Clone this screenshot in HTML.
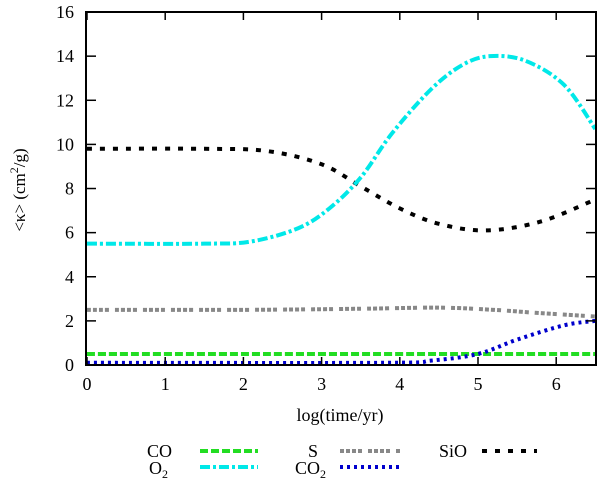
<!DOCTYPE html>
<html><head><meta charset="utf-8"><style>
body{margin:0;background:#fff;}
svg{display:block;font-family:"Liberation Serif",serif;}
</style></head><body>
<svg id="s" width="600" height="480" viewBox="0 0 600 480" xmlns="http://www.w3.org/2000/svg">
<g id="curves"></g>
<rect x="86" y="12" width="510" height="353" fill="none" stroke="#000" stroke-width="2"/>
<g id="ticks" stroke="#000" stroke-width="1.5"></g>
<g font-size="18" fill="#000" id="labels"></g>
<text x="340" y="421" font-size="18" text-anchor="middle">log(time/yr)</text>
<text transform="translate(25,190) rotate(-90)" font-size="17" text-anchor="middle">&lt;κ&gt; (cm<tspan dy="-7" font-size="12">2</tspan><tspan dy="7">/g)</tspan></text>
<g font-size="18" text-anchor="end">
<text x="172" y="457">CO</text>
<text x="318" y="457">S</text>
<text x="467" y="457">SiO</text>
<text x="168" y="474">O<tspan font-size="12" dy="4">2</tspan></text>
<text x="326" y="474">CO<tspan font-size="12" dy="4">2</tspan></text>
</g>
<g stroke-width="4" fill="none">
<line x1="200" y1="451" x2="258" y2="451" stroke="#22dd22" stroke-dasharray="8,3"/>
<line x1="340" y1="451" x2="400" y2="451" stroke="#888" stroke-dasharray="4,2,4,2,4,2,4,6"/>
<line x1="482" y1="451" x2="537" y2="451" stroke="#000" stroke-dasharray="5,8"/>
<line x1="200" y1="467" x2="258" y2="467" stroke="#00e8e8" stroke-dasharray="10,3,3,3"/>
<line x1="340" y1="467" x2="400" y2="467" stroke="#0000cc" stroke-dasharray="3,4"/>
</g>
</svg>
<script>
var X0=87,SX=78.2,Y0=365,SY=22.06;
function px(x){return X0+x*SX} function py(y){return Y0-y*SY}
var ns="http://www.w3.org/2000/svg";
function path(pts,col,dash){
 var p=pts.map(function(a){return [px(a[0]),py(a[1])]});
 var d="M"+p[0][0]+","+p[0][1];
 for(var i=0;i<p.length-1;i++){
  var p0=p[i-1]||p[i],p1=p[i],p2=p[i+1],p3=p[i+2]||p2;
  var c1=[p1[0]+(p2[0]-p0[0])/6,p1[1]+(p2[1]-p0[1])/6];
  var c2=[p2[0]-(p3[0]-p1[0])/6,p2[1]-(p3[1]-p1[1])/6];
  d+=" C"+c1+" "+c2+" "+p2;
 }
 var e=document.createElementNS(ns,"path");
 e.setAttribute("d",d);e.setAttribute("stroke",col);e.setAttribute("stroke-width","4");
 e.setAttribute("fill","none");e.setAttribute("stroke-dasharray",dash);
 document.getElementById("curves").appendChild(e);
}
path([[0,2.5],[2,2.5],[3.5,2.55],[4.5,2.6],[5.2,2.5],[5.8,2.35],[6.5,2.2]],"#888","4,2,4,2,4,2,4,6");
path([[0,0.5],[6.5,0.5]],"#22dd22","8,3");
path([[0,0.1],[3.8,0.1],[4.4,0.2],[5,0.5],[5.5,1.15],[6.1,1.8],[6.5,2.0]],"#0000cc","3,4");
path([[0,9.8],[1.5,9.8],[2.3,9.7],[3,9.1],[3.5,8.1],[4,7.1],[4.5,6.4],[5.1,6.1],[5.8,6.5],[6.5,7.5]],"#000","5,8");
path([[0,5.5],[1.5,5.5],[2.1,5.6],[2.7,6.2],[3.1,7.1],[3.5,8.5],[3.9,10.5],[4.4,12.5],[4.8,13.6],[5.15,14],[5.6,13.8],[6.1,12.7],[6.5,10.7]],"#00e8e8","10,3,3,3");
var t=document.getElementById("ticks"),l=document.getElementById("labels");
function ln(a,b,c,d){var e=document.createElementNS(ns,"line");e.setAttribute("x1",a);e.setAttribute("y1",b);e.setAttribute("x2",c);e.setAttribute("y2",d);t.appendChild(e);}
function tx(x,y,s,a){var e=document.createElementNS(ns,"text");e.setAttribute("x",x);e.setAttribute("y",y);e.setAttribute("text-anchor",a);e.textContent=s;l.appendChild(e);}
for(var i=0;i<=6;i++){var x=px(i);ln(x,365,x,357);ln(x,12,x,20);tx(x,390,i,"middle");}
for(var j=0;j<=16;j+=2){var y=py(j);ln(86,y,96,y);ln(596,y,586,y);tx(74,y+6,j,"end");}
</script>
</body></html>
